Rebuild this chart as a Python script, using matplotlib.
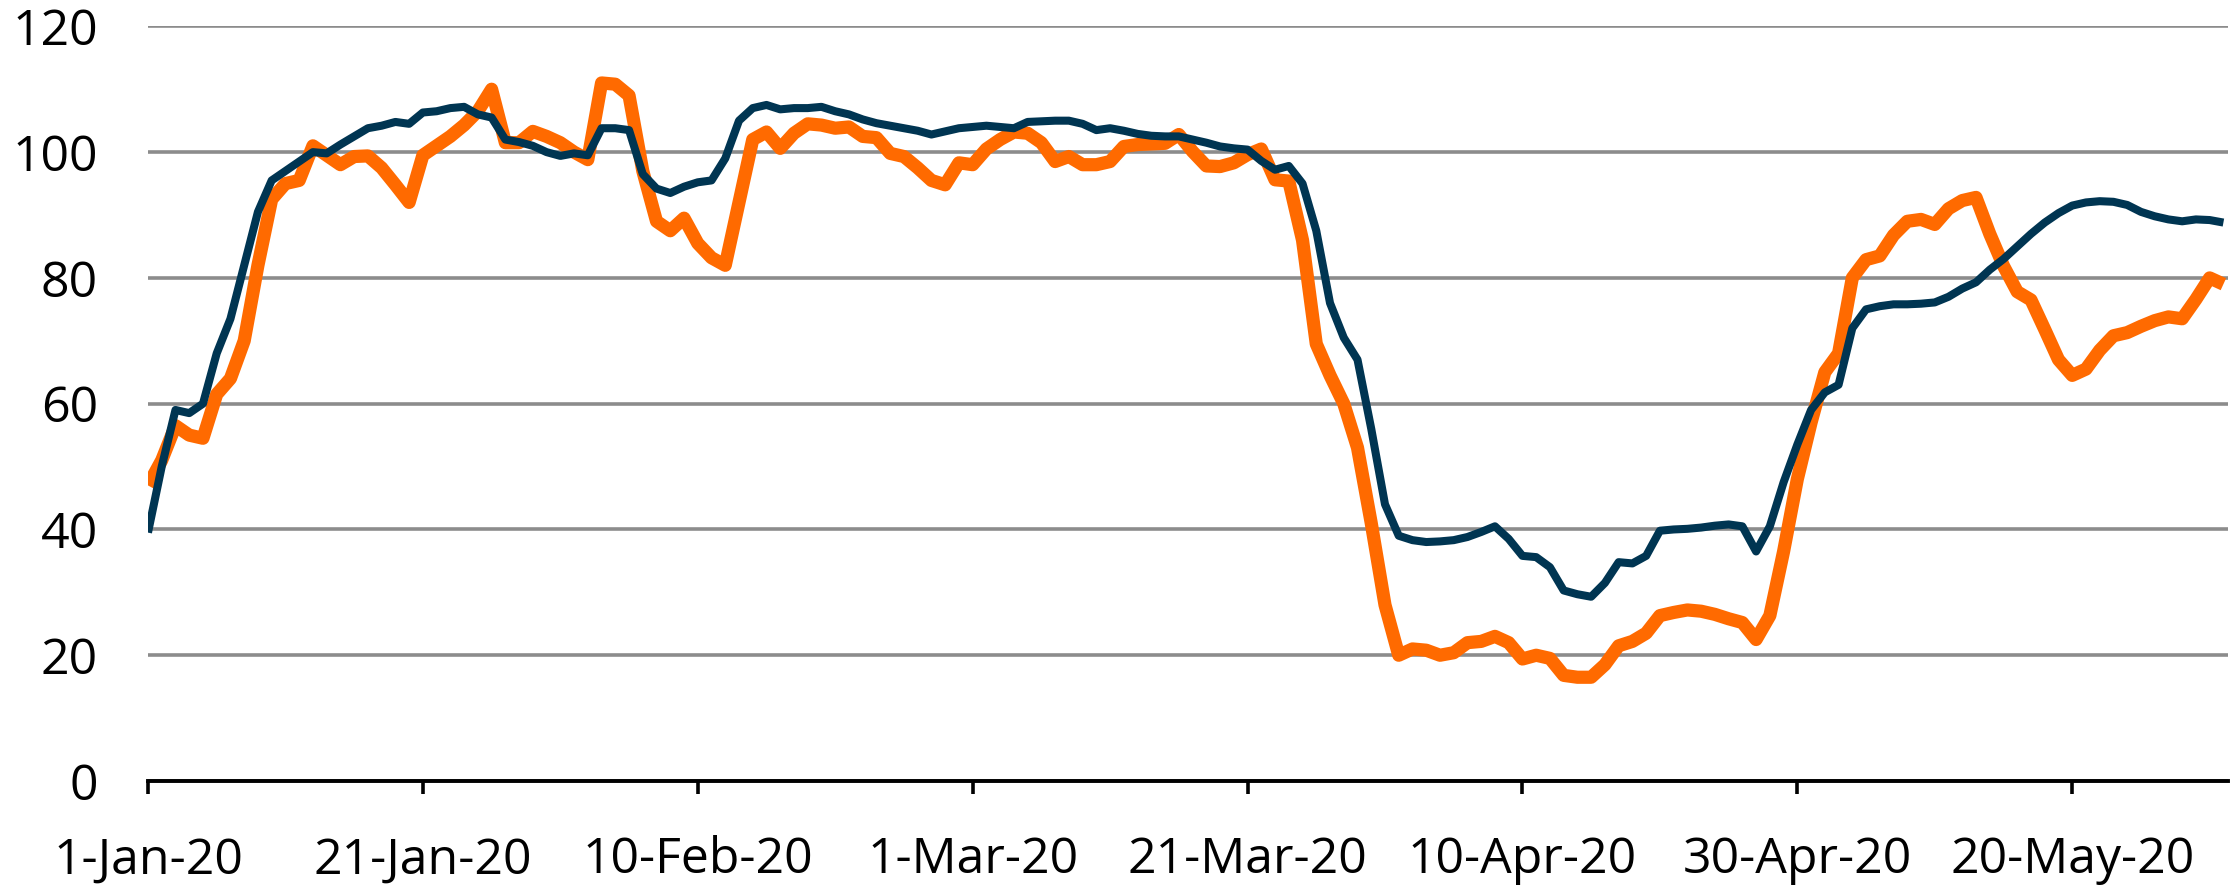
import matplotlib.pyplot as plt
import numpy as np
import pandas as pd

# daily values, 1-Jan-20 .. 31-May-20
orange = [47, 51, 56.5, 55, 54.5, 61.5, 64, 70, 82, 92.5,
          95, 95.5, 101, 99.5, 98, 99.3, 99.4, 97.5, 94.8, 92,
          99.5, 101, 102.5, 104.3, 106.5, 110, 101.5, 101.5, 103.3, 102.5,
          101.5, 100, 98.8, 111, 110.8, 109, 97, 89, 87.5, 89.5,
          85.5, 83.2, 82, 92, 102, 103.2, 100.6, 103, 104.5, 104.3,
          103.8, 104, 102.5, 102.3, 99.8, 99.3, 97.5, 95.5, 94.8, 98.3,
          98, 100.5, 102, 103.2, 103, 101.5, 98.5, 99.3, 98, 98,
          98.5, 100.9, 101.2, 101.3, 101.4, 102.8, 100.1, 97.8, 97.7, 98.3,
          99.6, 100.5, 95.6, 95.4, 86, 69.5, 64.5, 60, 53, 41,
          28, 20, 21, 20.8, 20, 20.4, 22, 22.2, 23, 22,
          19.4, 20, 19.5, 16.8, 16.5, 16.5, 18.5, 21.5, 22.2, 23.5,
          26.3, 26.8, 27.2, 27, 26.5, 25.8, 25.2, 22.5, 26.3, 36.5,
          48, 57, 65, 68, 80, 82.9, 83.5, 86.8, 89, 89.3,
          88.5, 91, 92.3, 92.8, 87, 81.9, 77.8, 76.5, 71.8, 67,
          64.5, 65.5, 68.5, 70.8, 71.3, 72.3, 73.2, 73.8, 73.5, 76.6,
          80, 79]

navy = [39.5, 50, 59, 58.5, 60, 68, 73.5, 82, 90.5, 95.5,
        97, 98.5, 100, 99.8, 101.2, 102.5, 103.8, 104.2, 104.8, 104.5,
        106.3, 106.5, 107, 107.2, 106, 105.5, 102, 101.6, 101, 100,
        99.4, 99.8, 99.5, 103.8, 103.8, 103.5, 96.5, 94.2, 93.5, 94.5,
        95.2, 95.5, 99, 105, 107, 107.5, 106.8, 107, 107, 107.2,
        106.5, 106, 105.2, 104.6, 104.2, 103.8, 103.4, 102.8, 103.3, 103.8,
        104, 104.2, 104, 103.8, 104.8, 104.9, 105, 105, 104.5, 103.5,
        103.8, 103.4, 102.9, 102.6, 102.5, 102.5, 102, 101.5, 100.9, 100.6,
        100.4, 98.6, 97.2, 97.8, 95, 87.5, 76, 70.5, 67, 56,
        44, 39, 38.3, 38, 38.1, 38.3, 38.8, 39.6, 40.5, 38.5,
        35.8, 35.6, 34, 30.3, 29.7, 29.3, 31.5, 34.8, 34.6, 35.8,
        39.8, 40, 40.1, 40.3, 40.6, 40.8, 40.5, 36.5, 40.5, 47.5,
        53.5, 59, 61.8, 63, 72, 75, 75.5, 75.8, 75.8, 75.9,
        76.1, 77, 78.3, 79.3, 81.3, 83, 85, 87, 88.8, 90.3,
        91.5, 92, 92.2, 92.1, 91.6, 90.5, 89.8, 89.3, 89, 89.3,
        89.2, 88.8]

dates = pd.date_range('2020-01-01', periods=len(orange), freq='D')
tick_dates = dates[::20]
y_ticks = [0, 20, 40, 60, 80, 100, 120]

plt.rcParams['font.family'] = ['Open Sans', 'DejaVu Sans']

fig = plt.figure(figsize=(22.32, 8.93), dpi=100)
ax = fig.add_axes([0.0663, 0.1254, 0.9317, 0.8451])

ax.plot(dates, orange, color='#FF6A00', lw=9.5, solid_capstyle='butt',
        solid_joinstyle='round', zorder=3)
ax.plot(dates, navy, color='#003552', lw=5.8, solid_capstyle='butt',
        solid_joinstyle='round', zorder=4)

ax.set_ylim(0, 120)
ax.set_xlim(dates[0], dates[0] + pd.Timedelta(days=151.3))
ax.set_yticks(y_ticks)
ax.set_xticks(tick_dates)
ax.set_xticklabels([d.strftime('%-d-%b-%y') for d in tick_dates])

ax.grid(axis='y', color='#8C8C8C', lw=2.6)
ax.set_axisbelow(True)
for s in ['top', 'right', 'left']:
    ax.spines[s].set_visible(False)
ax.spines['bottom'].set_linewidth(2.8)
ax.spines['bottom'].set_color('black')
ax.spines['bottom'].set_zorder(5)

ax.tick_params(axis='y', length=0, pad=36, labelsize=36)
ax.tick_params(axis='x', length=9.5, width=2.6, direction='out', pad=30, labelsize=36)

fig.savefig('out.png', dpi=100)
